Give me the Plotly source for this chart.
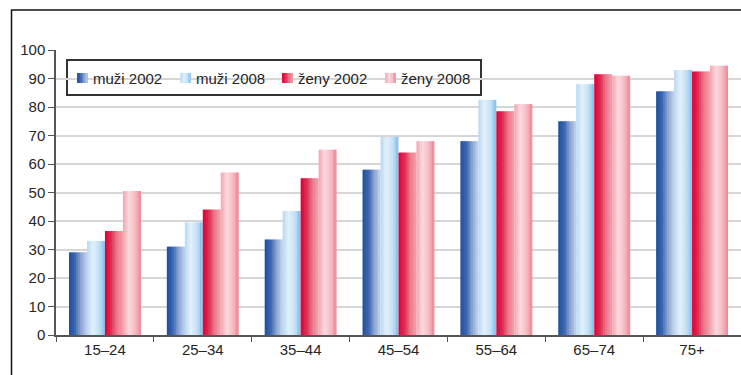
import plotly.graph_objects as go

# Age groups and shares (%) per sex and survey year
age_groups = ["15–24", "25–34", "35–44", "45–54", "55–64", "65–74", "75+"]
muzi_2002 = [29, 31, 33.5, 58, 68, 75, 85.5]
muzi_2008 = [33, 39.5, 43.5, 69.5, 82.5, 88, 93]
zeny_2002 = [36.5, 44, 55, 64, 78.5, 91.5, 92.5]
zeny_2008 = [50.5, 57, 65, 68, 81, 91, 94.5]
series_names = ["muži 2002", "muži 2008", "ženy 2002", "ženy 2008"]

# Colour stops (left -> right across each bar) for a cylinder-like shading
shading = [
    ["#1d4f9f", "#3a66b0", "#8ea6d5", "#c3d0ea"],
    ["#b5d8f3", "#e3f1fb", "#c4e1f6", "#86c0ea"],
    ["#dc0035", "#e02a50", "#ec7b8c", "#f1a0ab"],
    ["#f5a3ae", "#fbd9de", "#f7bcc4", "#ec8996"],
]


def hex_to_rgb(h):
    h = h.lstrip("#")
    return tuple(int(h[i:i + 2], 16) for i in (0, 2, 4))


def interp(stops, t):
    n = len(stops) - 1
    pos = t * n
    i = min(int(pos), n - 1)
    f = pos - i
    a, b = hex_to_rgb(stops[i]), hex_to_rgb(stops[i + 1])
    c = [round(a[k] + (b[k] - a[k]) * f) for k in range(3)]
    return "rgb({},{},{})".format(*c)


values = [muzi_2002, muzi_2008, zeny_2002, zeny_2008]

group_width = 0.735
bar_w = group_width / 4
n_strips = 10
strip_w = bar_w / n_strips

fig = go.Figure()
for s, (name, vals) in enumerate(zip(series_names, values)):
    left = -group_width / 2 + s * bar_w
    for k in range(n_strips):
        color = interp(shading[s], (k + 0.5) / n_strips)
        fig.add_trace(go.Bar(
            x=age_groups, y=vals,
            offset=left + k * strip_w,
            width=strip_w * (1.35 if k < n_strips - 1 else 1.0),
            marker=dict(color=color, line=dict(width=0)),
            name=name, legendgroup=name, showlegend=False,
            hovertemplate="%{x}: %{y}<extra>" + name + "</extra>",
        ))

W, H = 741, 375
ml, mr, mt, mb = 56, 0, 50, 40
pw = W - ml - mr
ph = H - mt - mb


def px_x(px):
    return (px - ml) / pw


def px_y(py):
    return (H - mb - py) / ph


shapes = [
    # legend box
    dict(type="rect", xref="paper", yref="paper",
         x0=px_x(67), x1=px_x(481), y0=px_y(95), y1=px_y(60),
         line=dict(color="#333333", width=2), fillcolor="white",
         layer="between"),
    # outer frame around the chart
    dict(type="rect", xref="paper", yref="paper",
         x0=px_x(11.5), x1=px_x(W + 5),
         y0=px_y(H + 5), y1=px_y(10),
         line=dict(color="#111111", width=1.5), fillcolor="rgba(0,0,0,0)",
         layer="above"),
]
annotations = []

# legend entries: shaded swatch followed by the series name
legend_text_x = [92, 195, 297, 400]
legend_mid_y = 78
sw_strips = 4
for s, name in enumerate(series_names):
    tx = legend_text_x[s]
    sx0, sx1 = tx - 15, tx - 4
    step = (sx1 - sx0) / sw_strips
    for k in range(sw_strips):
        right = sx0 + (k + 1) * step + (0.8 if k < sw_strips - 1 else 0)
        shapes.append(dict(
            type="rect", xref="paper", yref="paper",
            x0=px_x(sx0 + k * step), x1=px_x(right),
            y0=px_y(legend_mid_y + 5), y1=px_y(legend_mid_y - 5),
            line=dict(width=0),
            fillcolor=interp(shading[s], (k + 0.5) / sw_strips),
            layer="above",
        ))
    annotations.append(dict(
        xref="paper", yref="paper", x=px_x(tx - 1), y=px_y(legend_mid_y),
        xanchor="left", yanchor="middle", text=name, showarrow=False,
        font=dict(size=15, color="#262626"),
    ))

fig.update_layout(
    width=W, height=H,
    margin=dict(l=ml, r=mr, t=mt, b=mb),
    barmode="overlay",
    showlegend=False,
    paper_bgcolor="white",
    plot_bgcolor="white",
    font=dict(family="Liberation Sans, Arial, sans-serif", size=15, color="#262626"),
    xaxis=dict(
        type="category",
        showgrid=False,
        showline=True, linecolor="#555555", linewidth=1.5,
        ticks="outside", tickson="boundaries", ticklen=5, tickcolor="#555555",
        tickfont=dict(size=15, color="#262626"),
        fixedrange=True,
    ),
    yaxis=dict(
        range=[0, 100], dtick=10,
        showgrid=True, gridcolor="#d6d6d6", gridwidth=1.5,
        showline=True, linecolor="#555555", linewidth=1.5,
        ticks="outside", ticklen=6, tickcolor="#555555",
        tickfont=dict(size=15, color="#262626"),
        zeroline=False,
        fixedrange=True,
    ),
    shapes=shapes,
    annotations=annotations,
)

fig.write_html("out.html")
